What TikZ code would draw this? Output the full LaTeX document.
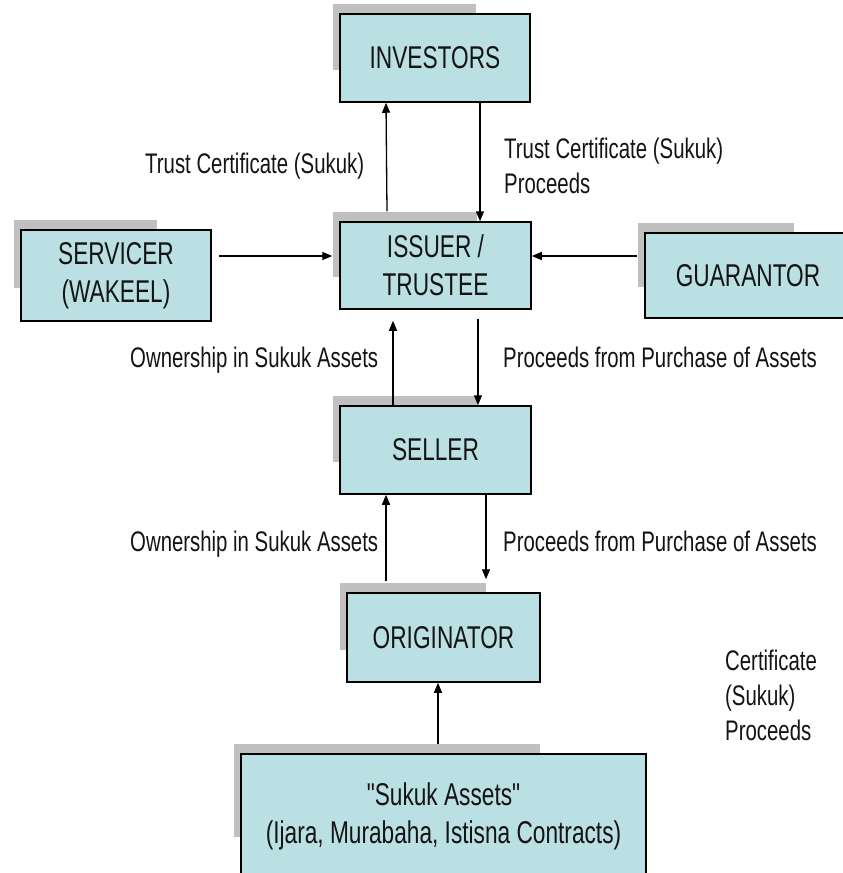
\documentclass[tikz,border=0pt]{standalone}
\usepackage{fontspec}
\setmainfont[FakeStretch=0.72, Ligatures=TeXOff]{Liberation Sans}
\usetikzlibrary{arrows.meta}

\definecolor{boxfill}{RGB}{187,224,228}
\definecolor{boxshade}{RGB}{192,192,192}
\definecolor{inktext}{RGB}{20,20,20}

\tikzset{
  partybox/.style={draw=black, line width=1.5pt, fill=boxfill, align=center,
    inner sep=0pt, text=inktext, font=\fontsize{31.5}{38}\selectfont},
  boxshadow/.style={fill=boxshade},
  flow/.style={draw=black, line width=1.3pt, -{Triangle[length=10pt,width=8pt]}},
  flowlabel/.style={anchor=base west, inner sep=0pt, align=left, text=inktext,
    font=\fontsize{28.3}{35}\selectfont},
}

% box with a grey tab-shaped shadow behind its upper-left part
% #1 name, #2 #3 centre, #4 width, #5 height, #6 text
\newcommand{\partynode}[6]{%
  \fill[boxshadow] ({#2-#4/2-7},{#3-#5/2-10}) rectangle ++({0.755*#4},{0.75*#5});
  \node[partybox, minimum width=#4, minimum height=#5] (#1) at (#2,#3) {#6};
}

\begin{document}
\begin{tikzpicture}[x=1pt, y=-1pt]
  \useasboundingbox (0,0) rectangle (843,873);
  \fill[white] (0,0) rectangle (843,873);

  % parties
  \partynode{investors}{435}{58}{190}{88}{INVESTORS}
  \partynode{issuer}{435.5}{265.5}{191}{87}{ISSUER /\\TRUSTEE}
  \partynode{servicer}{116}{275.5}{190}{91}{SERVICER\\(WAKEEL)}
  \partynode{guarantor}{748}{275.5}{206}{85}{GUARANTOR}
  \partynode{seller}{435.5}{450}{191}{88}{SELLER}
  \partynode{originator}{443.5}{637.5}{193}{89}{ORIGINATOR}
  \partynode{assets}{443.5}{816}{405}{124}{"Sukuk Assets"\\(Ijara, Murabaha, Istisna Contracts)}

  % flows between issuer and investors
  \draw[flow] ([xshift=-48.5pt,yshift=10pt]issuer.north) -- ([xshift=-49pt]investors.south);
  \draw[flow] ([xshift=45pt]investors.south) -- ([xshift=44.5pt]issuer.north);

  % servicer and guarantor into the issuer
  \draw[flow] ([xshift=7pt,yshift=19.5pt]servicer.east) -- ([xshift=-7pt,yshift=9.5pt]issuer.west);
  \draw[flow] ([xshift=-7pt,yshift=19.5pt]guarantor.west) -- ([yshift=9.5pt]issuer.east);

  % issuer and seller
  \draw[flow] ([xshift=-42.5pt]seller.north) -- ([xshift=-42.5pt,yshift=-11pt]issuer.south);
  \draw[flow] ([xshift=42.5pt,yshift=-9pt]issuer.south) -- ([xshift=42.5pt]seller.north);

  % seller and originator
  \draw[flow] ([xshift=-57.5pt,yshift=11pt]originator.north) -- ([xshift=-49.5pt]seller.south);
  \draw[flow] ([xshift=50.5pt]seller.south) -- ([xshift=42.5pt,yshift=13pt]originator.north);

  % assets into the originator
  \draw[flow] ([xshift=-5.5pt,yshift=9pt]assets.north) -- ([xshift=-5.5pt]originator.south);

  % flow labels (multi-line ones are placed by their last baseline)
  \node[flowlabel] (lblcert) at (145,173) {Trust Certificate (Sukuk)};
  \node[flowlabel] (lblproc) at (504,193) {Trust Certificate (Sukuk)\\Proceeds};
  \node[flowlabel] (lblown1) at (130,367) {Ownership in Sukuk Assets};
  \node[flowlabel] (lblbuy1) at (503,367) {Proceeds from Purchase of Assets};
  \node[flowlabel] (lblown2) at (130,551) {Ownership in Sukuk Assets};
  \node[flowlabel] (lblbuy2) at (503,551) {Proceeds from Purchase of Assets};
  \node[flowlabel] (lblside) at (725,740) {Certificate\\(Sukuk)\\Proceeds};
\end{tikzpicture}
\end{document}
